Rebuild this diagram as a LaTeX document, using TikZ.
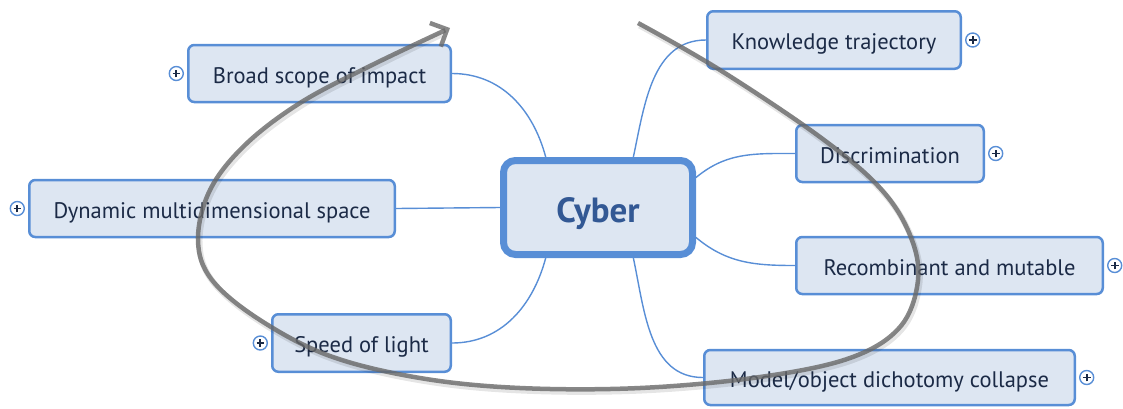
\documentclass[tikz,border=0pt]{standalone}
\usepackage{fontspec}
\setmainfont{PT Sans}
\usepackage{tikz}
\usetikzlibrary{arrows.meta,positioning}

\definecolor{mapblue}{RGB}{88,142,214}
\definecolor{mapfill}{RGB}{221,230,242}
\definecolor{maptext}{RGB}{27,42,70}
\definecolor{hubtext}{RGB}{50,88,148}
\definecolor{loopgray}{RGB}{105,105,105}

\begin{document}
\begin{tikzpicture}[x=1pt,y=1pt,
  topic/.style={draw=mapblue,fill=mapfill,line width=2.5pt,rounded corners=6pt,
    minimum height=57pt,inner sep=0pt,text height=19pt,text depth=0pt,
    text=maptext,font=\fontsize{22.5}{25}\selectfont},
  hub/.style={draw=mapblue,fill=mapfill,line width=7pt,rounded corners=12pt,
    minimum width=189pt,minimum height=94pt,text height=29pt,text depth=0pt,
    text=hubtext,font=\fontsize{35}{38}\selectfont\bfseries},
  link/.style={draw=mapblue,line width=1.4pt},
  expander/.style={draw=mapblue,fill=white,circle,line width=1.4pt,minimum size=14pt,inner sep=0pt,
    path picture={\draw[maptext,line width=1.8pt]
      (path picture bounding box.center) +(-3.8pt,0) -- +(3.8pt,0)
      (path picture bounding box.center) +(0,-3.8pt) -- +(0,3.8pt);}}]
\useasboundingbox (0,0) rectangle (1123,-408);

% centre topic and branches
\node[hub] (cyber) at (598,-207.5) {Cyber};
\node[topic,minimum width=262.5pt] (broad) at (319.5,-73.5) {Broad scope of impact};
\node[topic,minimum width=365.5pt] (dynamic) at (212,-208.5) {Dynamic multidimensional space};
\node[topic,minimum width=178.5pt,minimum height=57.5pt] (speed) at (361.5,-343) {Speed of light};
\node[topic,minimum width=253.5pt,minimum height=57.5pt] (knowledge) at (834,-40) {Knowledge trajectory};
\node[topic,minimum width=187.5pt] (discr) at (890,-153.5) {Discrimination};
\node[topic,minimum width=306.5pt] (recomb) at (949.5,-265.5) {Recombinant and mutable};
\node[topic,minimum width=370.5pt,minimum height=55pt] (model) at (889.5,-377.5) {Model/object dichotomy collapse};

\node[expander,left=3pt of broad] (broadx) {};
\node[expander,left=3pt of dynamic] (dynamicx) {};
\node[expander,left=3pt of speed] (speedx) {};
\node[expander,right=3pt of knowledge] (knowledgex) {};
\node[expander,right=3pt of discr] (discrx) {};
\node[expander,right=3pt of recomb] (recombx) {};
\node[expander,right=3pt of model] (modelx) {};

\draw[link] (broad.east) to[out=0,in=105] (cyber.136);
\draw[link] (dynamic.east) -- (cyber.west);
\draw[link] (speed.east) to[out=0,in=-105] (cyber.-136);
\draw[link] (cyber.55) to[out=78,in=180] (knowledge.west);
\draw[link] (cyber.17) to[out=40,in=180] (discr.west);
\draw[link] (cyber.-17) to[out=-40,in=180] (recomb.west);
\draw[link] (cyber.-55) to[out=-78,in=180] (model.west);

% loop drawn over everything
\draw[black,opacity=0.1,line width=6pt,shift={(1.5,-2.5)}]
  plot[smooth,tension=0.6] coordinates {(638,-23) (720,-70) (820,-137) (880,-188) (910,-235)
    (918,-280) (900,-327) (850,-358) (760,-377) (640,-388) (520,-388) (420,-378) (330,-356)
    (260,-320) (212,-280) (198,-240) (210,-190) (245,-145) (300,-103) (370,-66) (440,-32)};
\draw[loopgray,draw opacity=0.8,line width=4.5pt,-{Straight Barb[length=13pt,width=26pt]}]
  plot[smooth,tension=0.6] coordinates {(638,-23) (720,-70) (820,-137) (880,-188) (910,-235)
    (918,-280) (900,-327) (850,-358) (760,-377) (640,-388) (520,-388) (420,-378) (330,-356)
    (260,-320) (212,-280) (198,-240) (210,-190) (245,-145) (300,-103) (370,-66) (450,-28)};
\end{tikzpicture}
\end{document}
